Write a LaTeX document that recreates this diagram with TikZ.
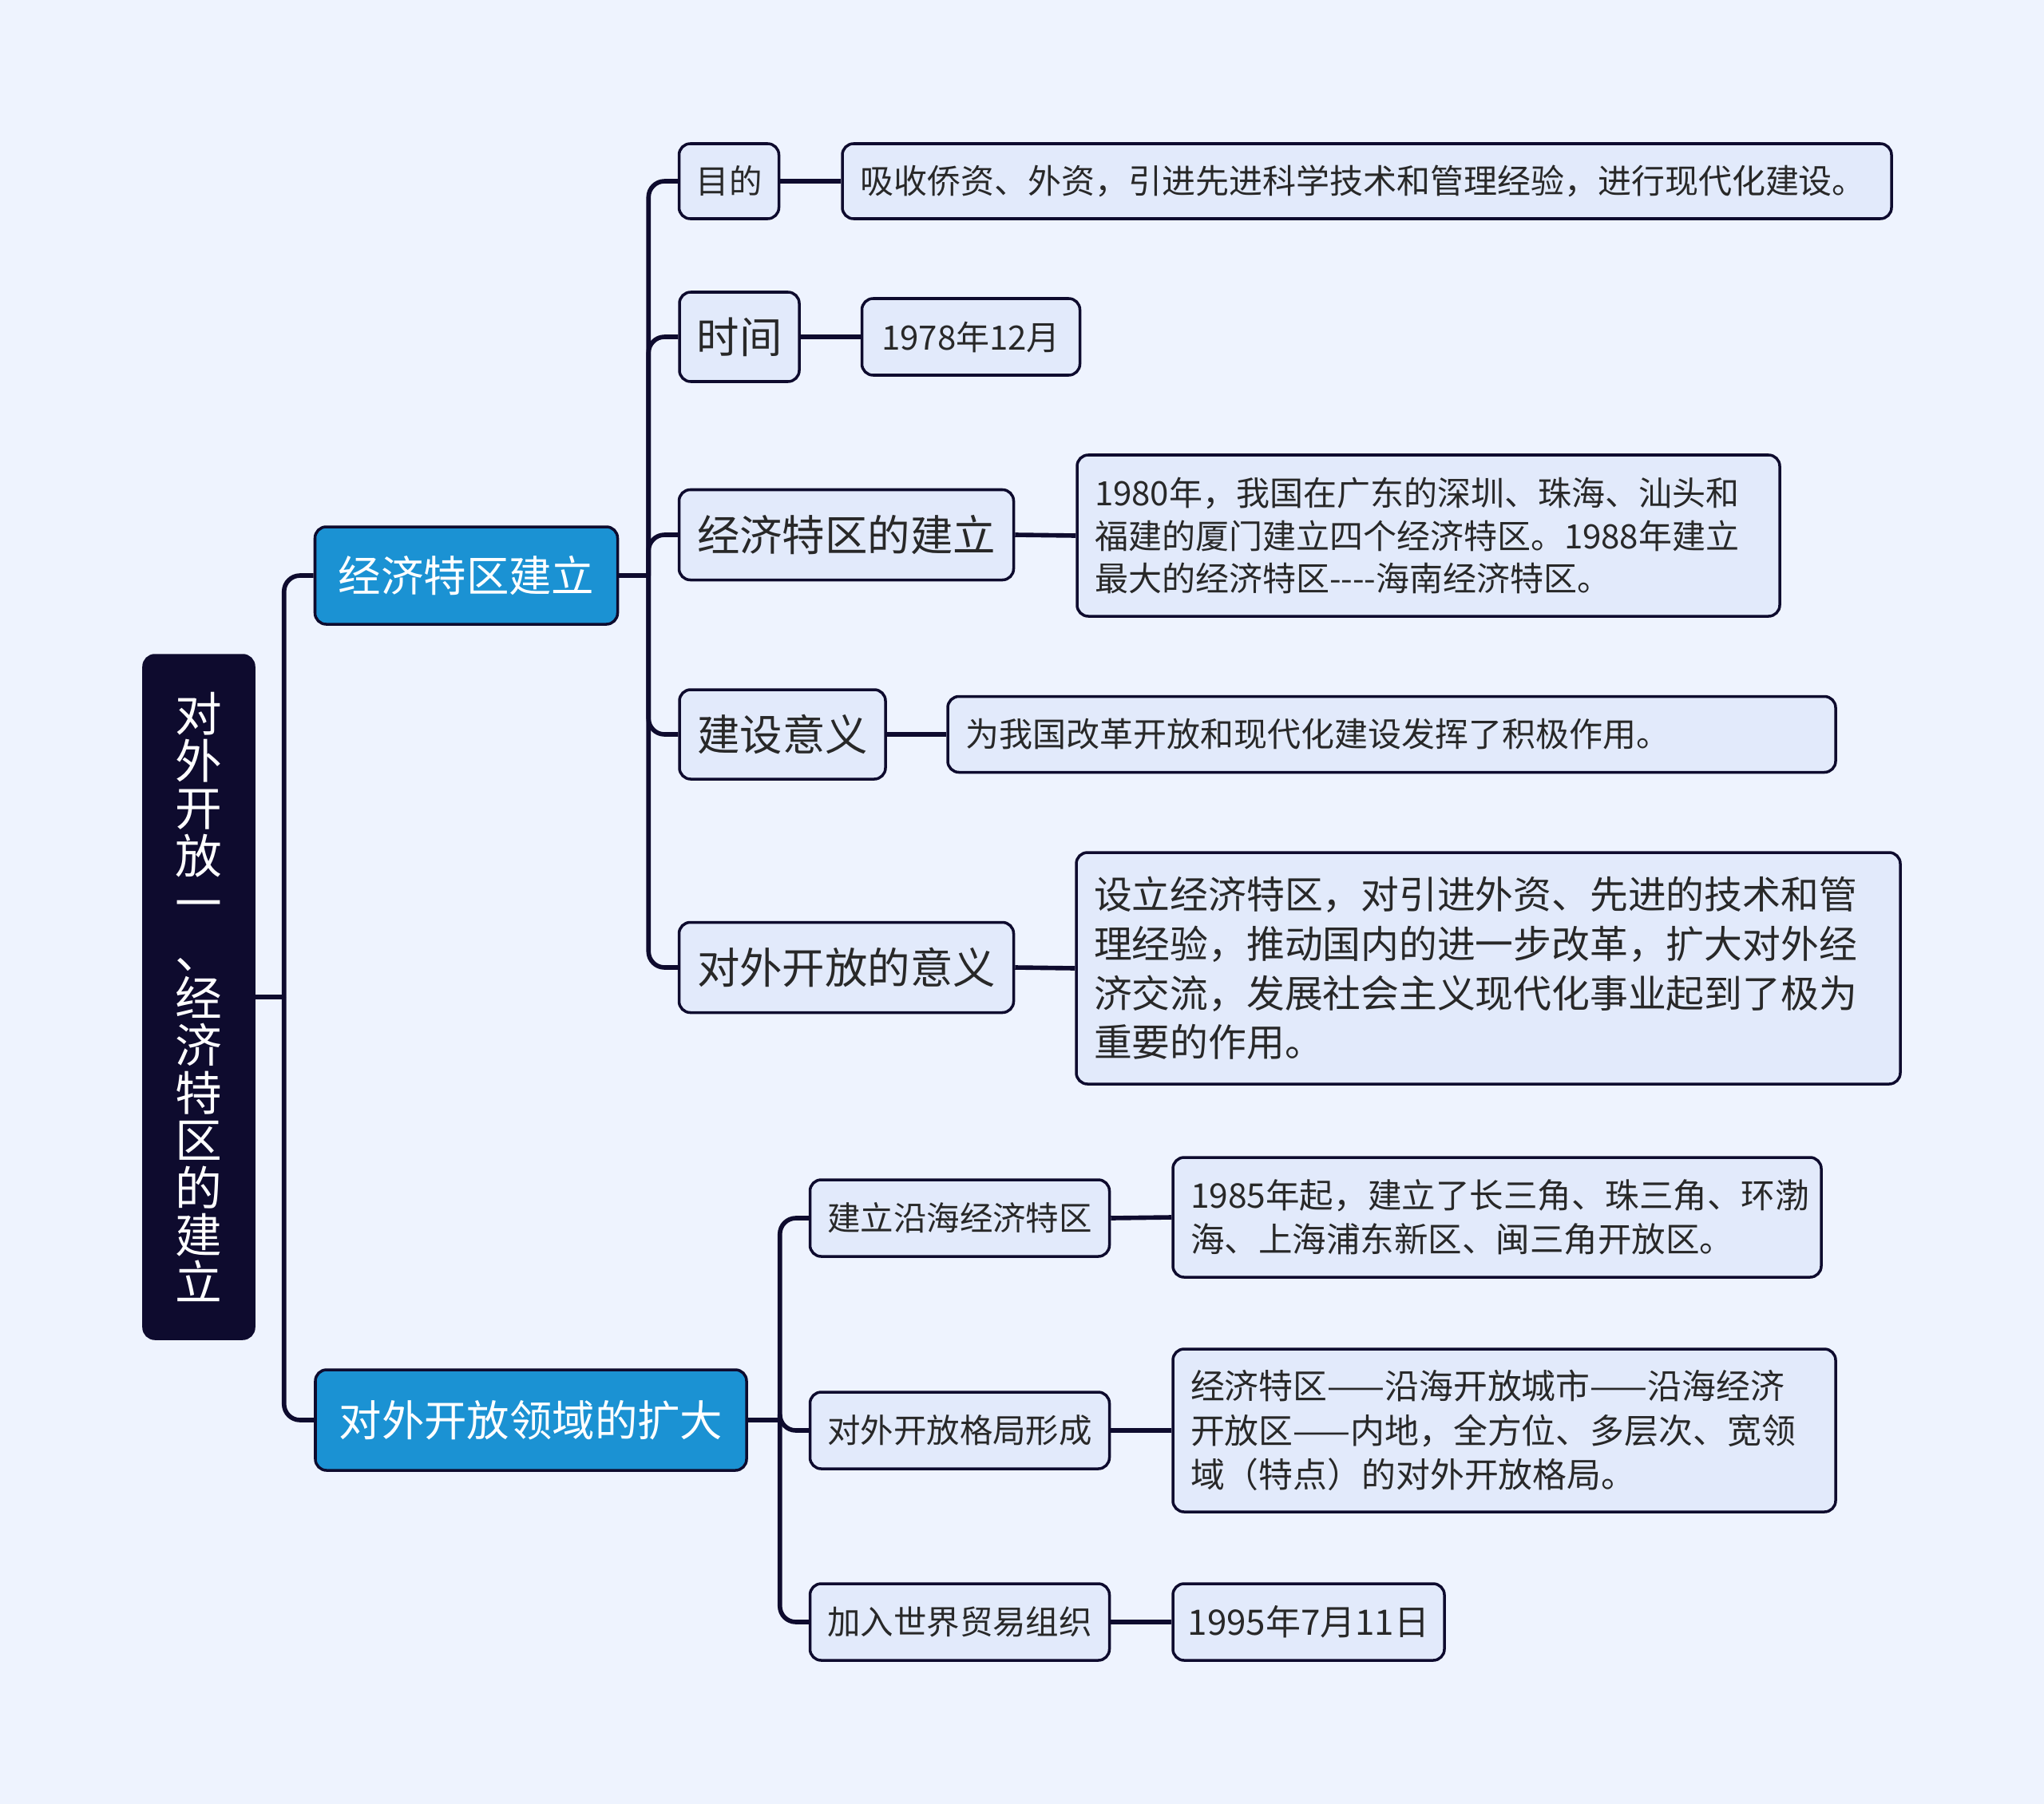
\documentclass[tikz,border=0pt]{standalone}
\usepackage{fontspec}
\setmainfont{Noto Sans CJK SC}
\usepackage{tikz}

\definecolor{bgC}{RGB}{238,243,254}
\definecolor{lineC}{RGB}{14,11,46}
\definecolor{rootC}{RGB}{14,11,46}
\definecolor{branchC}{RGB}{27,146,211}
\definecolor{topicC}{RGB}{226,234,251}
\definecolor{textC}{RGB}{40,40,40}

\tikzset{
  link/.style={line width=1.6pt, draw=lineC, rounded corners=0.2cm},
  basebox/.style={rectangle, rounded corners=0.14cm, draw=lineC, line width=1pt, inner sep=0pt},
  rootbox/.style={basebox, fill=rootC, text=white, align=center, font=\fontsize{16.7}{16.9}\selectfont},
  branchbox/.style={basebox, fill=branchC, text=white, font=\fontsize{15.2}{18}\selectfont},
  bigtopic/.style={basebox, fill=topicC, text=textC, font=\fontsize{15.2}{18}\selectfont},
  topic/.style={basebox, fill=topicC, text=textC, font=\fontsize{11.8}{15}\selectfont},
  leaf/.style={basebox, fill=topicC, text=textC, font=\fontsize{11.95}{15.3}\selectfont},
  leafpar/.style={leaf, align=left, inner xsep=0.22cm}
}

\begin{document}
\begin{tikzpicture}
\fill[bgC] (0,0) rectangle (25.6,-22.6);
\useasboundingbox (0,0) rectangle (25.6,-22.6);

% root and main branches
\node[rootbox, minimum width=1.38cm, minimum height=8.56cm] (root) at (2.49,-12.49)
  {对\\外\\开\\放\\一\\、\\经\\济\\特\\区\\的\\建\\立};
\node[branchbox, minimum width=3.79cm, minimum height=1.22cm] (b1) at (5.84,-7.21) {经济特区建立};
\node[branchbox, minimum width=5.40cm, minimum height=1.26cm] (b2) at (6.65,-17.79) {对外开放领域的扩大};

% first branch
\node[topic, minimum width=1.25cm, minimum height=0.94cm] (c1) at (9.13,-2.27) {目的};
\node[bigtopic, minimum width=1.50cm, minimum height=1.12cm] (c2) at (9.26,-4.22) {时间};
\node[bigtopic, minimum width=4.19cm, minimum height=1.13cm] (c3) at (10.60,-6.70) {经济特区的建立};
\node[bigtopic, minimum width=2.58cm, minimum height=1.12cm] (c4) at (9.80,-9.20) {建设意义};
\node[bigtopic, minimum width=4.19cm, minimum height=1.13cm] (c5) at (10.60,-12.12) {对外开放的意义};

\node[leafpar, text width=12.70cm, minimum height=0.94cm] (l1) at (17.12,-2.27)
  {吸收侨资、外资，引进先进科学技术和管理经验，进行现代化建设。};
\node[leaf, minimum width=2.73cm, minimum height=0.96cm] (l2) at (12.16,-4.22) {1978年12月};
\node[leafpar, text width=8.36cm, minimum height=2.02cm] (l3) at (17.89,-6.71)
  {1980年，我国在广东的深圳、珠海、汕头和\\福建的厦门建立四个经济特区。1988年建立\\最大的经济特区-{}-{}-{}-海南经济特区。};
\node[leafpar, text width=10.68cm, minimum height=0.95cm] (l4) at (17.43,-9.20)
  {为我国改革开放和现代化建设发挥了积极作用。};
\node[leafpar, text width=9.88cm, minimum height=2.90cm, font=\fontsize{13.6}{17.6}\selectfont] (l5) at (18.64,-12.13)
  {设立经济特区，对引进外资、先进的技术和管\\理经验，推动国内的进一步改革，扩大对外经\\济交流，发展社会主义现代化事业起到了极为\\重要的作用。};

% second branch
\node[topic, minimum width=3.75cm, minimum height=0.96cm] (c6) at (12.02,-15.26) {建立沿海经济特区};
\node[topic, minimum width=3.75cm, minimum height=0.96cm] (c7) at (12.02,-17.92) {对外开放格局形成};
\node[topic, minimum width=3.75cm, minimum height=0.96cm] (c8) at (12.02,-20.32) {加入世界贸易组织};

\node[leafpar, text width=7.68cm, minimum height=1.50cm, font=\fontsize{12.1}{15.8}\selectfont] (l6) at (18.75,-15.25)
  {1985年起，建立了长三角、珠三角、环渤\\海、上海浦东新区、闽三角开放区。};
\node[leafpar, text width=7.86cm, minimum height=2.04cm, font=\fontsize{12.2}{15.8}\selectfont] (l7) at (18.84,-17.92)
  {经济特区——沿海开放城市——沿海经济\\开放区——内地，全方位、多层次、宽领\\域（特点）的对外开放格局。};
\node[leaf, minimum width=3.40cm, minimum height=0.96cm, font=\fontsize{12.5}{16}\selectfont] (l8) at (16.39,-20.32) {1995年7月11日};

% connectors
\draw[link] (root.east) -- ++(0.36,0) coordinate (r0);
\draw[link] (r0) |- (b1.west);
\draw[link] (r0) |- (b2.west);

\draw[link] (b1.east) -- ++(0.37,0) coordinate (t1);
\foreach \c in {c1,c2,c3,c4,c5}
  \draw[link] (t1) |- (\c.west);

\draw[link] (b2.east) -- ++(0.40,0) coordinate (t2);
\foreach \c in {c6,c7,c8}
  \draw[link] (t2) |- (\c.west);

\draw[link] (c1.east) -- (l1.west);
\draw[link] (c2.east) -- (l2.west);
\draw[link] (c3.east) -- (l3.west);
\draw[link] (c4.east) -- (l4.west);
\draw[link] (c5.east) -- (l5.west);
\draw[link] (c6.east) -- (l6.west);
\draw[link] (c7.east) -- (l7.west);
\draw[link] (c8.east) -- (l8.west);
\end{tikzpicture}
\end{document}
